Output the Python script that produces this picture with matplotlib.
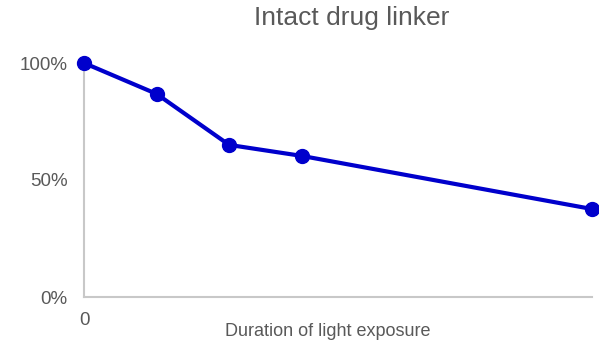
import matplotlib.pyplot as plt
from matplotlib.ticker import PercentFormatter

# data
durations = [0, 1, 2, 3, 7]
intact = [1.00, 0.868, 0.650, 0.603, 0.376]

plt.rcParams['font.family'] = ['Liberation Sans', 'DejaVu Sans']

fig = plt.figure(figsize=(5.99, 3.42), dpi=100)
ax = fig.add_axes([84 / 599, 45 / 342, 508 / 599, 234 / 342])

ax.plot(durations, intact, color="#0000cc", linewidth=3,
        marker="o", markersize=10, clip_on=False, zorder=3)

ax.set_xlim(0, 7)
ax.set_ylim(0, 1.0)
ax.set_yticks([0, 0.5, 1.0])
ax.yaxis.set_major_formatter(PercentFormatter(1.0, decimals=0))
ax.set_xticks([0])
ax.tick_params(length=0, labelsize=13.5, labelcolor="#595959")
ax.tick_params(axis="y", pad=12)
ax.tick_params(axis="x", pad=11)

for s in ["top", "right"]:
    ax.spines[s].set_visible(False)
for s in ["left", "bottom"]:
    ax.spines[s].set_color("#c8c8c8")
    ax.spines[s].set_linewidth(1.5)

fig.text(352 / 599, 1 - 18 / 342, "Intact drug linker", ha="center", va="center",
         fontsize=19, color="#595959")
fig.text(328 / 599, 1 - 331 / 342, "Duration of light exposure", ha="center",
         va="center", fontsize=13, color="#595959")

fig.savefig("out.png", dpi=100)
